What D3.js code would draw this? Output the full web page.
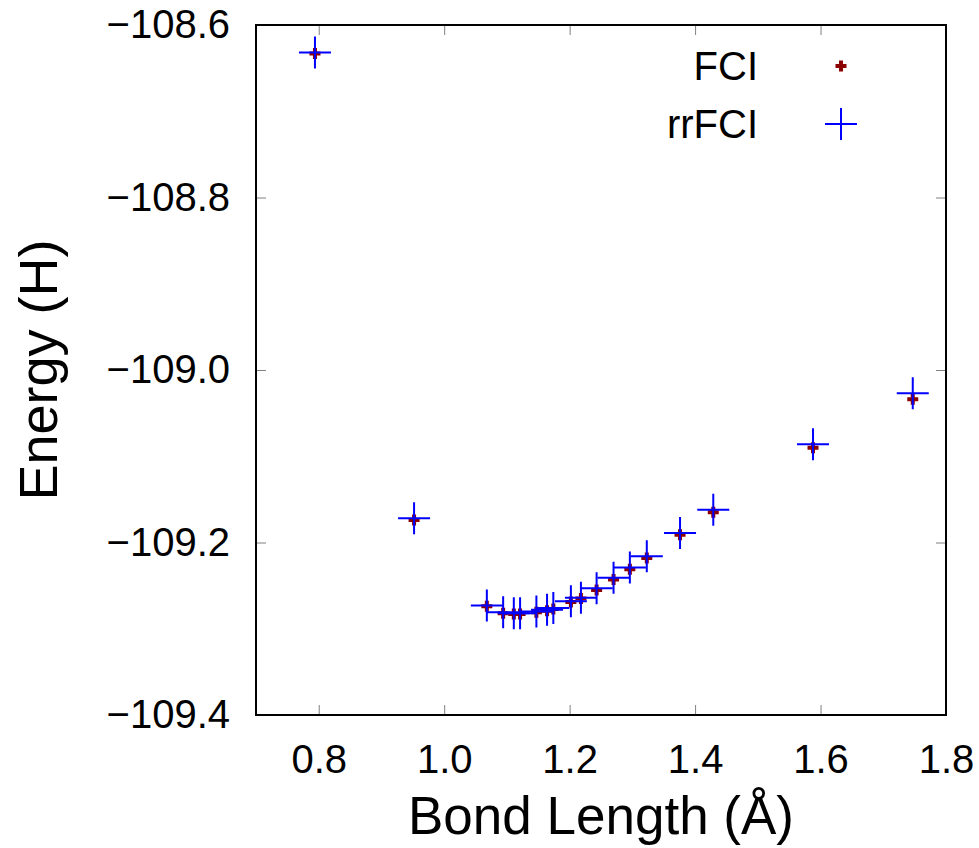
<!DOCTYPE html>
<html>
<head>
<meta charset="utf-8">
<script src="https://cdn.jsdelivr.net/npm/d3@7"></script>
<style>
  body { margin: 0; background: #fff; }
  text { font-family: "Liberation Sans", Arial, sans-serif; }
</style>
</head>
<body>
<script>
'use strict';
// bond lengths (angstrom) and energies (hartree)
const bondLength = [0.794, 0.952, 1.068, 1.094, 1.111, 1.121, 1.147, 1.164, 1.174, 1.202,
                    1.218, 1.243, 1.270, 1.296, 1.323, 1.376, 1.429, 1.588, 1.747];
const fciEnergy = [-108.633, -109.174, -109.274, -109.282, -109.283, -109.283, -109.281, -109.279,
                   -109.277, -109.269, -109.265, -109.255, -109.243, -109.231, -109.218, -109.191,
                   -109.165, -109.090, -109.034];
const rrfciEnergy = [-108.632, -109.172, -109.273, -109.281, -109.282, -109.282, -109.280, -109.278,
                     -109.276, -109.268, -109.264, -109.253, -109.241, -109.229, -109.216, -109.189,
                     -109.162, -109.086, -109.027];
const xTicks = [0.8, 1.0, 1.2, 1.4, 1.6, 1.8];
const yTicks = [-109.4, -109.2, -109.0, -108.8, -108.6];
const seriesNames = ["FCI", "rrFCI"];

(function() {
  const width = 979, height = 848;
  const left = 256, right = 946, top = 25, bottom = 715;

  let svg = d3.select('body').append('svg')
    .attr('width', width)
    .attr('height', height);

  let xScale = d3.scaleLinear().domain([0.7, 1.8]).range([left, right]);
  let yScale = d3.scaleLinear().domain([-109.4, -108.6]).range([bottom, top]);
  let fmt = d3.format('.1f');

  // axes with inward ticks
  function styleAxis(g) {
    g.select('.domain').remove();
    g.selectAll('.tick line').attr('stroke', '#808080').attr('stroke-width', 1);
    g.selectAll('.tick text').style('font-size', '40px').attr('fill', '#000');
  }

  svg.append('g')
    .attr('transform', `translate(0,${bottom})`)
    .call(d3.axisBottom(xScale).tickValues(xTicks).tickFormat(fmt)
      .tickSizeInner(-10).tickSizeOuter(0).tickPadding(30))
    .call(styleAxis);

  svg.append('g')
    .attr('transform', `translate(${left},0)`)
    .call(d3.axisLeft(yScale).tickValues(yTicks).tickFormat(fmt)
      .tickSizeInner(-10).tickSizeOuter(0).tickPadding(26))
    .call(styleAxis);

  // mirrored ticks on top and right
  svg.append('g')
    .attr('transform', `translate(0,${top})`)
    .call(d3.axisTop(xScale).tickValues(xTicks).tickFormat('').tickSizeInner(-10).tickSizeOuter(0))
    .call(styleAxis);
  svg.append('g')
    .attr('transform', `translate(${right},0)`)
    .call(d3.axisRight(yScale).tickValues(yTicks).tickFormat('').tickSizeInner(-10).tickSizeOuter(0))
    .call(styleAxis);

  // frame
  svg.append('rect')
    .attr('x', left).attr('y', top)
    .attr('width', right - left).attr('height', bottom - top)
    .attr('fill', 'none').attr('stroke', '#000').attr('stroke-width', 2);

  // axis titles
  svg.append('text')
    .attr('x', (left + right) / 2).attr('y', 834)
    .attr('text-anchor', 'middle')
    .style('font-size', '53px')
    .text('Bond Length (Å)');

  svg.append('text')
    .attr('transform', `translate(57, ${(top + bottom) / 2})rotate(-90)`)
    .attr('text-anchor', 'middle')
    .style('font-size', '54px')
    .text('Energy (H)');

  // plus marker path
  function plus(cx, cy, r) {
    return `M${cx - r},${cy}H${cx + r}M${cx},${cy - r}V${cy + r}`;
  }

  let fci = bondLength.map((b, i) => ({x: b, y: fciEnergy[i]}));
  let rr = bondLength.map((b, i) => ({x: b, y: rrfciEnergy[i]}));

  svg.append('g').selectAll('path')
    .data(fci).enter().append('path')
    .attr('d', d => plus(xScale(d.x), yScale(d.y), 5.5))
    .attr('stroke', '#8b0000').attr('stroke-width', 4).attr('fill', 'none');

  svg.append('g').selectAll('path')
    .data(rr).enter().append('path')
    .attr('d', d => plus(xScale(d.x), yScale(d.y), 16))
    .attr('stroke', '#0000ff').attr('stroke-width', 2).attr('fill', 'none');

  // legend
  let legendY = [66, 124];
  seriesNames.forEach((name, i) => {
    svg.append('text')
      .attr('x', 758).attr('y', legendY[i])
      .attr('text-anchor', 'end').attr('dominant-baseline', 'central')
      .style('font-size', '40px')
      .text(name);
  });
  svg.append('path')
    .attr('d', plus(841, legendY[0], 5.5))
    .attr('stroke', '#8b0000').attr('stroke-width', 4);
  svg.append('path')
    .attr('d', plus(841, legendY[1], 16))
    .attr('stroke', '#0000ff').attr('stroke-width', 2);
})();
</script>
</body>
</html>
